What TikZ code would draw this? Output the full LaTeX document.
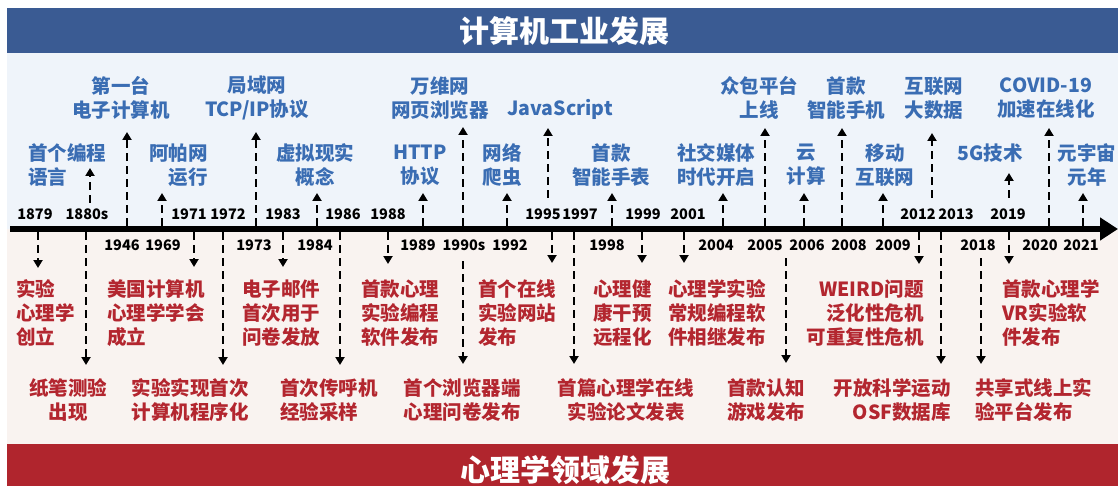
\documentclass[tikz,border=0pt]{standalone}
\usepackage{fontspec}
\setmainfont{Noto Sans CJK SC}
\usetikzlibrary{arrows.meta}

\definecolor{bandblue}{HTML}{3A5B93}
\definecolor{bgblue}{HTML}{EFF4FA}
\definecolor{bgpink}{HTML}{F9F3F0}
\definecolor{bandred}{HTML}{B0252D}
\definecolor{txtblue}{HTML}{3A6DB3}
\definecolor{txtred}{HTML}{B3262F}

\tikzset{
  upev/.style={inner sep=0pt, text=txtblue, font=\fontsize{19.5}{24}\selectfont\bfseries},
  lowev/.style={inner sep=0pt, text=txtred, font=\fontsize{19.5}{24}\selectfont\bfseries},
  yearlbl/.style={inner sep=0pt, font=\fontsize{14.5}{16}\selectfont\bfseries},
  bandtitle/.style={inner sep=0pt, text=white, font=\fontsize{30}{32}\selectfont\bfseries},
  evarrow/.style={line width=2.6pt, dash pattern=on 8pt off 5pt, -{Triangle[length=8pt,width=9pt]}}
}

\begin{document}
\begin{tikzpicture}[x=1pt,y=-1pt]
    \useasboundingbox (0,0) rectangle (1118,486);

    % Sfondi
    \fill[bandblue] (7,8) rectangle (1118,53);
    \fill[bgblue] (7,53) rectangle (1118,229);
    \fill[bgpink] (7,229) rectangle (1118,444);
    \fill[bandred] (7,444) rectangle (1118,486);

    % Titoli
    \node[bandtitle] (ttop) at (564,31) {计算机工业发展};
    \node[bandtitle] (tbot) at (565,470) {心理学领域发展};

    % Asse del tempo
    \coordinate (axstart) at (10,229);
    \coordinate (axend) at (1118,229);
    \draw[line width=6pt, -{Triangle[length=18pt,width=22pt]}] (axstart) -- (axend);

    % Anni sopra l'asse
    \node[yearlbl] (y1879) at (35,214) {1879};
    \node[yearlbl] (y1880s) at (87,214) {1880s};
    \node[yearlbl] (y1971) at (189,214) {1971};
    \node[yearlbl] (y1972) at (228,214) {1972};
    \node[yearlbl] (y1983) at (283,214) {1983};
    \node[yearlbl] (y1986) at (343,214) {1986};
    \node[yearlbl] (y1988) at (388,214) {1988};
    \node[yearlbl] (y1995) at (543,214) {1995};
    \node[yearlbl] (y1997) at (580,214) {1997};
    \node[yearlbl] (y1999) at (643,214) {1999};
    \node[yearlbl] (y2001) at (688,214) {2001};
    \node[yearlbl] (y2012) at (918,214) {2012};
    \node[yearlbl] (y2013) at (956,214) {2013};
    \node[yearlbl] (y2019) at (1008,214) {2019};

    % Anni sotto l'asse
    \node[yearlbl] (y1946) at (122,245) {1946};
    \node[yearlbl] (y1969) at (163,245) {1969};
    \node[yearlbl] (y1973) at (254,245) {1973};
    \node[yearlbl] (y1984) at (315,245) {1984};
    \node[yearlbl] (y1989) at (418,245) {1989};
    \node[yearlbl] (y1990s) at (464,245) {1990s};
    \node[yearlbl] (y1992) at (510,245) {1992};
    \node[yearlbl] (y1998) at (607,245) {1998};
    \node[yearlbl] (y2004) at (716,245) {2004};
    \node[yearlbl] (y2005) at (765,245) {2005};
    \node[yearlbl] (y2006) at (807,245) {2006};
    \node[yearlbl] (y2008) at (849,245) {2008};
    \node[yearlbl] (y2009) at (893,245) {2009};
    \node[yearlbl] (y2018) at (978,245) {2018};
    \node[yearlbl] (y2020) at (1040,245) {2020};
    \node[yearlbl] (y2021) at (1081,245) {2021};

    % Eventi dell'industria informatica
    \node[upev, anchor=west, align=left] (ulang) at (28,165) {首个编程\\语言};
    \node[upev, align=center] (u1946) at (121,98) {第一台\\电子计算机};
    \node[upev, anchor=east, align=right] (u1969) at (208,165) {阿帕网\\运行};
    \node[upev, align=center] (u1973) at (257,98) {局域网\\TCP/IP协议};
    \node[upev, align=center] (u1984) at (315,165) {虚拟现实\\概念};
    \node[upev, align=center] (u1989) at (420,165) {HTTP\\协议};
    \node[upev, align=center] (u1990s) at (440,98) {万维网\\网页浏览器};
    \node[upev, align=center] (u1992) at (502,165) {网络\\爬虫};
    \node[upev] (u1995) at (560,109) {JavaScript};
    \node[upev, align=center] (u1998) at (611,165) {首款\\智能手表};
    \node[upev, align=center] (u2004) at (716,165) {社交媒体\\时代开启};
    \node[upev, align=center] (u2005) at (759,98) {众包平台\\上线};
    \node[upev, align=center] (u2006) at (806,165) {云\\计算};
    \node[upev, align=center] (u2008) at (846,98) {首款\\智能手机};
    \node[upev, align=center] (u2009) at (885,165) {移动\\互联网};
    \node[upev, align=center] (u2012) at (934,98) {互联网\\大数据};
    \node[upev] (u2019) at (990,153) {5G技术};
    \node[upev, align=center] (u2020) at (1046,98) {COVID-19\\加速在线化};
    \node[upev, align=center] (u2021) at (1087,165) {元宇宙\\元年};

    % Eventi della psicologia
    \node[lowev, anchor=west, align=left] (l1879) at (16,313) {实验\\心理学\\创立};
    \node[lowev, align=center] (l1880s) at (68,400) {纸笔测验\\出现};
    \node[lowev, anchor=west, align=left] (l1971) at (107,313) {美国计算机\\心理学学会\\成立};
    \node[lowev, align=center] (l1972) at (190,400) {实验实现首次\\计算机程序化};
    \node[lowev, anchor=west, align=left] (l1983) at (242,313) {电子邮件\\首次用于\\问卷发放};
    \node[lowev, anchor=west, align=left] (l1986) at (280,400) {首次传呼机\\经验采样};
    \node[lowev, anchor=west, align=left] (l1988) at (361,313) {首款心理\\实验编程\\软件发布};
    \node[lowev, align=center] (l1990s) at (462,400) {首个浏览器端\\心理问卷发布};
    \node[lowev, anchor=west, align=left] (l1995) at (478,313) {首个在线\\实验网站\\发布};
    \node[lowev, align=center] (l1997) at (626,400) {首篇心理学在线\\实验论文发表};
    \node[lowev, anchor=west, align=left] (l1999) at (593,313) {心理健\\康干预\\远程化};
    \node[lowev, anchor=west, align=left] (l2001) at (668,313) {心理学实验\\常规编程软\\件相继发布};
    \node[lowev, anchor=west, align=left] (l2006) at (727,400) {首款认知\\游戏发布};
    \node[lowev, anchor=east, align=right] (l2012) at (924,313) {WEIRD问题\\泛化性危机\\可重复性危机};
    \node[lowev, anchor=east, align=right] (l2013) at (951,400) {开放科学运动\\OSF数据库};
    \node[lowev, anchor=west, align=left] (l2018) at (975,400) {共享式线上实\\验平台发布};
    \node[lowev, anchor=west, align=left] (l2019) at (1002,313) {首款心理学\\VR实验软\\件发布};

    % Frecce verso l'alto
    \coordinate (sulang) at (90,203); \coordinate (eulang) at (90,168);
    \draw[evarrow] (sulang) -- (eulang);
    \coordinate (su1946) at (127,226); \coordinate (eu1946) at (127,132);
    \draw[evarrow] (su1946) -- (eu1946);
    \coordinate (su1969) at (162,226); \coordinate (eu1969) at (162,193);
    \draw[evarrow] (su1969) -- (eu1969);
    \coordinate (su1973) at (256,226); \coordinate (eu1973) at (256,132);
    \draw[evarrow] (su1973) -- (eu1973);
    \coordinate (su1984) at (317,226); \coordinate (eu1984) at (317,193);
    \draw[evarrow] (su1984) -- (eu1984);
    \coordinate (su1989) at (423,226); \coordinate (eu1989) at (423,193);
    \draw[evarrow] (su1989) -- (eu1989);
    \coordinate (su1990s) at (463,226); \coordinate (eu1990s) at (463,127);
    \draw[evarrow] (su1990s) -- (eu1990s);
    \coordinate (su1992) at (507,226); \coordinate (eu1992) at (507,193);
    \draw[evarrow] (su1992) -- (eu1992);
    \coordinate (su1995) at (548,198); \coordinate (eu1995) at (548,128);
    \draw[evarrow] (su1995) -- (eu1995);
    \coordinate (su1998) at (612,226); \coordinate (eu1998) at (612,193);
    \draw[evarrow] (su1998) -- (eu1998);
    \coordinate (su2004) at (723,226); \coordinate (eu2004) at (723,193);
    \draw[evarrow] (su2004) -- (eu2004);
    \coordinate (su2005) at (765,226); \coordinate (eu2005) at (765,128);
    \draw[evarrow] (su2005) -- (eu2005);
    \coordinate (su2006) at (804,226); \coordinate (eu2006) at (804,193);
    \draw[evarrow] (su2006) -- (eu2006);
    \coordinate (su2008) at (842,226); \coordinate (eu2008) at (842,128);
    \draw[evarrow] (su2008) -- (eu2008);
    \coordinate (su2009) at (883,226); \coordinate (eu2009) at (883,193);
    \draw[evarrow] (su2009) -- (eu2009);
    \coordinate (su2012) at (932,198); \coordinate (eu2012) at (932,133);
    \draw[evarrow] (su2012) -- (eu2012);
    \coordinate (su2019) at (1009,198); \coordinate (eu2019) at (1009,173);
    \draw[evarrow] (su2019) -- (eu2019);
    \coordinate (su2020) at (1049,226); \coordinate (eu2020) at (1049,128);
    \draw[evarrow] (su2020) -- (eu2020);
    \coordinate (su2021) at (1083,226); \coordinate (eu2021) at (1083,193);
    \draw[evarrow] (su2021) -- (eu2021);

    % Frecce verso il basso
    \coordinate (sl1879) at (38,232); \coordinate (el1879) at (38,268);
    \draw[evarrow] (sl1879) -- (el1879);
    \coordinate (sl1880s) at (86,232); \coordinate (el1880s) at (86,365);
    \draw[evarrow] (sl1880s) -- (el1880s);
    \coordinate (sl1971) at (194,232); \coordinate (el1971) at (194,267);
    \draw[evarrow] (sl1971) -- (el1971);
    \coordinate (sl1972) at (223,232); \coordinate (el1972) at (223,365);
    \draw[evarrow] (sl1972) -- (el1972);
    \coordinate (sl1983) at (283,232); \coordinate (el1983) at (283,267);
    \draw[evarrow] (sl1983) -- (el1983);
    \coordinate (sl1986) at (340,232); \coordinate (el1986) at (340,365);
    \draw[evarrow] (sl1986) -- (el1986);
    \coordinate (sl1988) at (388,232); \coordinate (el1988) at (388,264);
    \draw[evarrow] (sl1988) -- (el1988);
    \coordinate (sl1990s) at (463,261); \coordinate (el1990s) at (463,364);
    \draw[evarrow] (sl1990s) -- (el1990s);
    \coordinate (sl1995) at (552,232); \coordinate (el1995) at (552,263);
    \draw[evarrow] (sl1995) -- (el1995);
    \coordinate (sl1997) at (574,232); \coordinate (el1997) at (574,364);
    \draw[evarrow] (sl1997) -- (el1997);
    \coordinate (sl1999) at (642,232); \coordinate (el1999) at (642,263);
    \draw[evarrow] (sl1999) -- (el1999);
    \coordinate (sl2001) at (684,232); \coordinate (el2001) at (684,263);
    \draw[evarrow] (sl2001) -- (el2001);
    \coordinate (sl2006) at (786,258); \coordinate (el2006) at (786,363);
    \draw[evarrow] (sl2006) -- (el2006);
    \coordinate (sl2012) at (919,232); \coordinate (el2012) at (919,264);
    \draw[evarrow] (sl2012) -- (el2012);
    \coordinate (sl2013) at (941,232); \coordinate (el2013) at (941,364);
    \draw[evarrow] (sl2013) -- (el2013);
    \coordinate (sl2018) at (981,258); \coordinate (el2018) at (981,364);
    \draw[evarrow] (sl2018) -- (el2018);
    \coordinate (sl2019) at (1009,232); \coordinate (el2019) at (1009,264);
    \draw[evarrow] (sl2019) -- (el2019);
\end{tikzpicture}
\end{document}
